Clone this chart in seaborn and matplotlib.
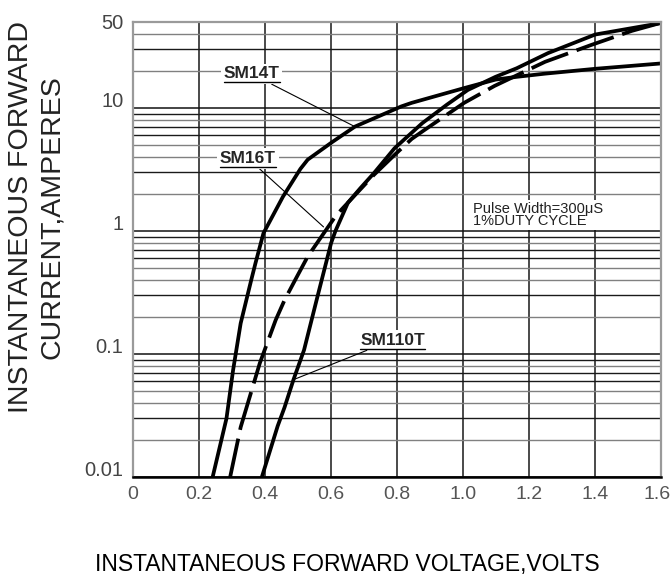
import numpy as np
import pandas as pd
import matplotlib
matplotlib.use('Agg')
import matplotlib.pyplot as plt
import seaborn as sns
from matplotlib.lines import Line2D
from matplotlib.text import Text
from matplotlib.ticker import LogLocator, NullFormatter
from matplotlib.transforms import IdentityTransform, ScaledTranslation

# Forward voltage (V) vs forward current (A)
sm14t_v = [0.241, 0.283, 0.303, 0.326, 0.358, 0.371, 0.395, 0.454, 0.507, 0.529,
           0.604, 0.672, 0.813, 0.844, 1.003, 1.098, 1.162, 1.248, 1.400, 1.600]
sm14t_i = [0.010, 0.030, 0.074, 0.178, 0.40, 0.55, 0.96, 1.90, 3.2, 3.8,
           5.3, 7.05, 10.3, 11.0, 14.5, 17.0, 17.9, 19.0, 20.8, 23.0]

sm16t_v = [0.294, 0.326, 0.384, 0.432, 0.459, 0.491, 0.529, 0.609, 0.630, 0.729,
           0.792, 0.844, 0.882, 1.003, 1.095, 1.248, 1.388, 1.511, 1.597]
sm16t_i = [0.010, 0.0255, 0.0845, 0.189, 0.275, 0.40, 0.62, 1.27, 1.48, 2.85,
           4.15, 5.6, 6.6, 11.0, 15.1, 23.7, 32.5, 42.3, 49.0]

sm110t_v = [0.390, 0.438, 0.459, 0.486, 0.518, 0.556, 0.600, 0.613, 0.651, 0.688,
            0.729, 0.792, 0.876, 0.950, 1.014, 1.098, 1.162, 1.257, 1.400, 1.600]
sm110t_i = [0.010, 0.026, 0.037, 0.062, 0.108, 0.275, 0.80, 1.00, 1.70, 2.22,
            2.94, 4.70, 7.52, 10.6, 14.0, 17.9, 21.0, 27.9, 39.5, 49.0]

devices = ['SM14T', 'SM16T', 'SM110T']

x_ticks = [0, 0.2, 0.4, 0.6, 0.8, 1.0, 1.2, 1.4, 1.6]
x_tick_labels = ['0', '0.2', '0.4', '0.6', '0.8', '1.0', '1.2', '1.4', '1.6']
y_ticks = [0.01, 0.1, 1, 10, 50]
y_tick_labels = ['0.01', '0.1', '1', '10', '50']

df = pd.concat([
    pd.DataFrame({'voltage': v, 'current': i, 'device': d})
    for d, v, i in zip(devices, [sm14t_v, sm16t_v, sm110t_v], [sm14t_i, sm16t_i, sm110t_i])
], ignore_index=True)

sns.set_theme(style='white')
plt.rcParams['font.family'] = ['Liberation Sans', 'DejaVu Sans']

fig, ax = plt.subplots(figsize=(6.72, 5.77), dpi=100)
fig.subplots_adjust(left=0.198, right=0.984, top=0.962, bottom=0.173)

sns.lineplot(data=df, x='voltage', y='current', hue='device', style='device',
             palette={d: 'black' for d in devices},
             dashes={'SM14T': '', 'SM16T': (10.5, 2.4), 'SM110T': ''},
             sort=False, estimator=None, linewidth=2.7, legend=False, ax=ax)
for line in ax.get_lines():
    line.set_solid_capstyle('butt')
    line.set_solid_joinstyle('round')

ax.set_yscale('log')
ax.set_xlim(0, 1.6)
ax.set_ylim(0.01, 50)
ax.set_xticks(x_ticks, x_tick_labels)
ax.set_yticks(y_ticks, y_tick_labels)
ax.yaxis.set_minor_locator(LogLocator(base=10, subs=np.arange(2, 10)))
ax.yaxis.set_minor_formatter(NullFormatter())
ax.tick_params(which='both', length=0)
ax.tick_params(axis='x', pad=6, labelsize=14, labelcolor='#555555')
ax.tick_params(axis='y', pad=7, labelsize=14.5, labelcolor='#444444')

# printed labels sit a little above their lines, last x label pulled inside
for lab in ax.get_yticklabels()[:-1]:
    lab.set_transform(lab.get_transform() + ScaledTranslation(0, 6 / 72, fig.dpi_scale_trans))
last = ax.get_xticklabels()[-1]
last.set_transform(last.get_transform() + ScaledTranslation(-3 / 72, 0, fig.dpi_scale_trans))

ax.set_axisbelow(True)
ax.grid(True, which='major', axis='x', color='#3c3c3c', lw=1.3)
ax.grid(True, which='major', axis='y', color='#111111', lw=1.1)
ax.grid(True, which='minor', axis='y', color='#808080', lw=1.0)

for sp in ['left', 'right', 'top']:
    ax.spines[sp].set_color('#9a9a9a')
    ax.spines[sp].set_linewidth(1.6)
ax.spines['bottom'].set_color('black')
ax.spines['bottom'].set_linewidth(1.8)

ax.set_xlabel('INSTANTANEOUS FORWARD VOLTAGE,VOLTS', fontsize=16.5, color='black')
ax.xaxis.set_label_coords(0.405, -0.191)
ax.xaxis.label.set_va('center')
ax.set_ylabel('INSTANTANEOUS FORWARD\nCURRENT,AMPERES', fontsize=20.5, color='#222222', linespacing=1.25)
ax.yaxis.set_label_coords(-0.182, 0.571)
ax.yaxis.label.set_va('center')

ann_kw = dict(fontsize=12.5, fontweight='bold', ha='center', va='center',
              bbox=dict(fc='white', ec='none', pad=2.0),
              arrowprops=dict(arrowstyle='-', color='black', lw=0.8, shrinkA=0, shrinkB=0))
labels = [
    ax.annotate('SM14T', xy=(0.672, 7.05), xytext=(0.359, 18.9), **ann_kw),
    ax.annotate('SM16T', xy=(0.577, 1.08), xytext=(0.348, 3.9), **ann_kw),
    ax.annotate('SM110T', xy=(0.486, 0.062), xytext=(0.786, 0.130), **ann_kw),
]

ax.text(1.029, 1.35, 'Pulse Width=300\u03bcS\n1%DUTY CYCLE', fontsize=10.5,
        ha='left', va='center', linespacing=0.9, color='#222222',
        bbox=dict(fc='white', ec='none', pad=1.0))

fig.canvas.draw()
renderer = fig.canvas.get_renderer()

# mix of dark and grey minor lines, like the printed grid
for tick, loc in zip(ax.yaxis.get_minor_ticks(), ax.yaxis.get_minorticklocs()):
    mant = int(round(loc / 10 ** np.floor(np.log10(loc) + 1e-9)))
    if mant in (3, 6, 7, 9):
        tick.gridline.set_color('#1a1a1a')

# underline the curve labels (text extent only, not the leader)
for t in labels:
    bb = Text.get_window_extent(t, renderer)
    fig.add_artist(Line2D([bb.x0, bb.x1], [bb.y0 - 1, bb.y0 - 1], color='black', lw=1.0,
                          transform=IdentityTransform()))

fig.savefig('out.png', dpi=100)
